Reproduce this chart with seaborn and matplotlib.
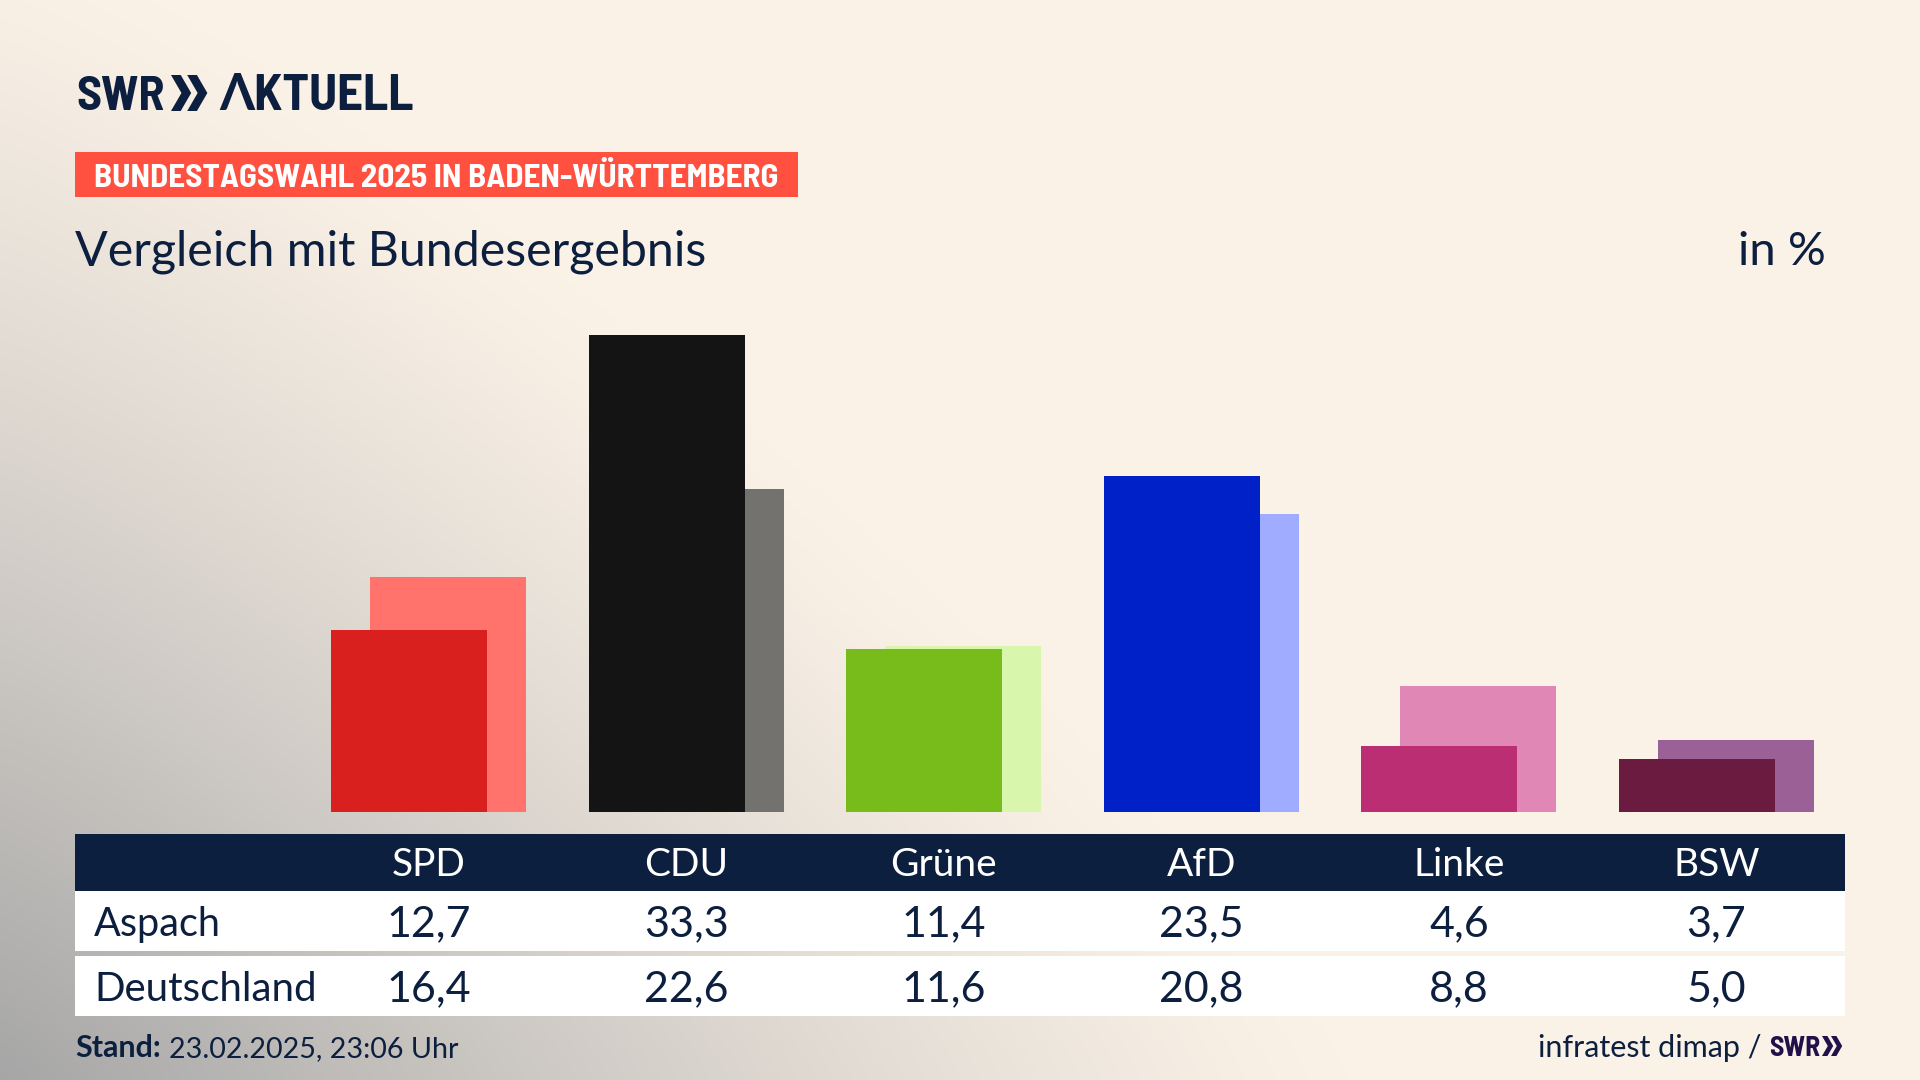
# -*- coding: utf-8 -*-
import numpy as np
import pandas as pd
import seaborn as sns
import matplotlib.pyplot as plt
from matplotlib.colors import to_rgb
from matplotlib.patches import Polygon, Rectangle

parteien = ['SPD', 'CDU', 'Grüne', 'AfD', 'Linke', 'BSW']
aspach = [12.7, 33.3, 11.4, 23.5, 4.6, 3.7]
deutschland = [16.4, 22.6, 11.6, 20.8, 8.8, 5.0]
farben_aspach = ['#D9201E', '#141414', '#78BC1B', '#0020C8', '#BC2E73', '#6B1A40']
farben_deutschland = ['#FF736C', '#73726F', '#D9F7AC', '#9FACFF', '#E087B5', '#9B6096']

NAVY = '#0C1F3F'
LOGO_FONT = ['Barlow Semi Condensed', 'Lato', 'DejaVu Sans']
W, H = 1920, 1080
BAR_W = 156 / 257.6
BAR_OFF = 19.5 / 257.6

sns.set_theme(style='white')
plt.rcParams['font.family'] = ['Lato', 'DejaVu Sans']


def px_axes(fig, left, top, right, bottom, **kw):
    return fig.add_axes([left / W, 1 - bottom / H, (right - left) / W, (bottom - top) / H], **kw)


def zahl(v):
    return f'{v:.1f}'.replace('.', ',')


def chevrons(ax, x, y, h, color):
    # die zwei Pfeile vom SWR-Logo
    w, tk = h * 0.56, h * 0.27
    for dx in (0, h * 0.45):
        ax.add_patch(Polygon([(x + dx, y), (x + dx + tk, y), (x + dx + w, y + h / 2),
                              (x + dx + tk, y + h), (x + dx, y + h), (x + dx + w - tk, y + h / 2)],
                             closed=True, color=color, lw=0))


fig = plt.figure(figsize=(19.2, 10.8), dpi=100)

# Hintergrund: creme mit grauem Verlauf von unten links
bg_ax = fig.add_axes([0, 0, 1, 1], zorder=0)
yy, xx = np.mgrid[0:H, 0:W]
dist = ((xx / 1350) ** 1.2 + ((H - yy) / 1150) ** 1.2) ** (1 / 1.2)
t = np.clip(1 - dist, 0, 1) ** 1.2
creme = np.array(to_rgb('#FBF2E7'))
grau = np.array(to_rgb('#A6A6A6'))
bg_ax.imshow(creme + (grau - creme) * t[..., None], aspect='auto')
bg_ax.axis('off')

# Balken
ax = px_axes(fig, 299.7, 311.15, 1845.3, 812, zorder=1)
ax.patch.set_visible(False)
pos = np.arange(len(parteien))
df_de = pd.DataFrame({'pos': pos + BAR_OFF, 'wert': deutschland, 'partei': parteien})
df_as = pd.DataFrame({'pos': pos - BAR_OFF, 'wert': aspach, 'partei': parteien})
sns.barplot(data=df_de, x='pos', y='wert', hue='partei', palette=farben_deutschland, native_scale=True,
            dodge=False, width=BAR_W, legend=False, saturation=1, linewidth=0, ax=ax)
sns.barplot(data=df_as, x='pos', y='wert', hue='partei', palette=farben_aspach, native_scale=True,
            dodge=False, width=BAR_W, legend=False, saturation=1, linewidth=0, ax=ax)
ax.set_xlim(-0.5, 5.5)
ax.set_ylim(0, 35)
ax.axis('off')

# Alles andere in Pixelkoordinaten
top = fig.add_axes([0, 0, 1, 1], zorder=2)
top.set_xlim(0, W)
top.set_ylim(H, 0)
top.axis('off')

top.text(76, 110, 'SWR', fontsize=34.5, fontweight='bold', color=NAVY, family=LOGO_FONT, va='baseline')
chevrons(top, 171, 75, 36, NAVY)
top.text(219, 110, 'ΛKTUELL', fontsize=36.5, fontweight='bold', color=NAVY, family=LOGO_FONT, va='baseline')

top.add_patch(Rectangle((75, 152), 723, 45, color='#FF5040', lw=0))
top.text(94, 175, 'BUNDESTAGSWAHL 2025 IN BADEN-WÜRTTEMBERG', fontsize=23.9, fontweight='bold', color='white', family=LOGO_FONT, va='center_baseline')

top.text(75, 265, 'Vergleich mit Bundesergebnis', fontsize=34.8, color=NAVY, va='baseline')
top.text(1826, 265, 'in %', fontsize=34, color=NAVY, ha='right', va='baseline')

# Tabelle
top.add_patch(Rectangle((75, 834), 1770, 57, color=NAVY, lw=0))
top.add_patch(Rectangle((75, 891), 1770, 60, color='white', lw=0))
top.add_patch(Rectangle((75, 956), 1770, 60, color='white', lw=0))
top.text(94, 921, 'Aspach', fontsize=28.5, color=NAVY, va='center_baseline')
top.text(94, 986, 'Deutschland', fontsize=29, color=NAVY, va='center_baseline')
for i, partei in enumerate(parteien):
    x = 428.5 + i * 257.6
    top.text(x, 862, partei, fontsize=28, color='white', ha='center', va='center_baseline')
    top.text(x, 921, zahl(aspach[i]), fontsize=31, color=NAVY, ha='center', va='center_baseline')
    top.text(x, 986, zahl(deutschland[i]), fontsize=31, color=NAVY, ha='center', va='center_baseline')

# Fusszeile
top.text(75, 1057, 'Stand:', fontsize=22, fontweight='bold', color=NAVY, va='baseline')
top.text(169, 1057, '23.02.2025, 23:06 Uhr', fontsize=20.6, color=NAVY, va='baseline')
top.text(1761, 1057, 'infratest dimap /', fontsize=22, color=NAVY, ha='right', va='baseline')
top.text(1769, 1056, 'SWR', fontsize=20, fontweight='bold', color='#21104A', family=LOGO_FONT, va='baseline')
chevrons(top, 1822, 1036, 20, '#21104A')

fig.savefig('out.png', dpi=100)
